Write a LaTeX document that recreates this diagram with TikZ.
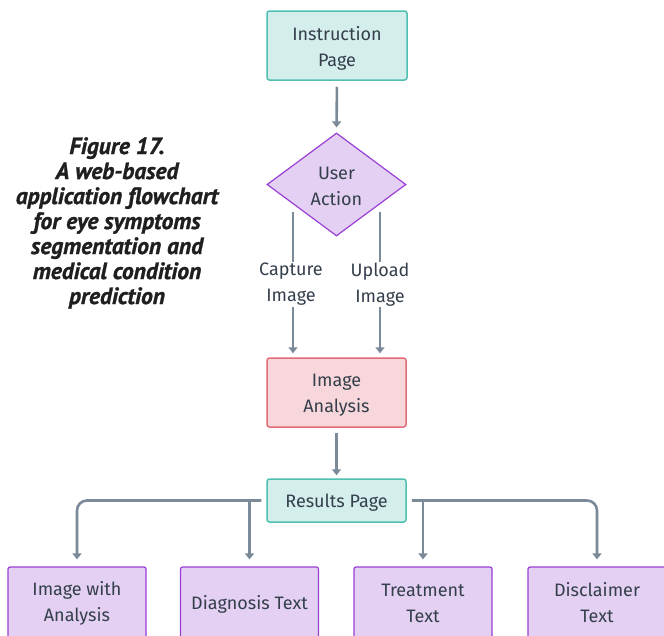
\documentclass[tikz,border=0pt]{standalone}
\usepackage{fontspec}
\setmainfont{Fira Sans}
\newfontfamily\captionfont{PT Sans}[BoldItalicFeatures={FakeBold=1.2}]
\usetikzlibrary{shapes.geometric,arrows.meta,calc}
\definecolor{txt}{HTML}{343F4B}
\definecolor{conncol}{HTML}{7A8A98}
\definecolor{tealfill}{HTML}{D4EEEC}
\definecolor{tealline}{HTML}{4EC0B2}
\definecolor{pinkfill}{HTML}{F7D7DB}
\definecolor{pinkline}{HTML}{E06D78}
\definecolor{lilacfill}{HTML}{E3D0F2}
\definecolor{lilacline}{HTML}{9A3FD6}
\tikzset{
  base/.style={text=txt, font=\fontsize{18}{26}\selectfont, align=center, inner sep=0pt},
  % a tall strut on the first line sets the text block a little lower
  lowered/.style={execute at begin node={\rule{0pt}{17.5pt}}},
  % two-line caption inside a box, set slightly below the box centre
  boxtext/.style 2 args={label={[base, yshift=#1]center:{#2}}},
  tealbox/.style={base, lowered, draw=tealline, fill=tealfill, line width=1.5pt, rounded corners=2.5pt},
  pinkbox/.style={base, lowered, draw=pinkline, fill=pinkfill, line width=1.5pt, rounded corners=2.5pt},
  lilacbox/.style={base, lowered, draw=lilacline, fill=lilacfill, line width=1.2pt, rounded corners=2pt,
    minimum width=138pt, minimum height=72pt},
  decision/.style={base, diamond, draw=lilacline, fill=lilacfill, line width=1.2pt,
    minimum width=139pt, minimum height=103pt, aspect=1.35},
  lbl/.style={base, fill=white, inner ysep=2pt},
  conn/.style={draw=conncol, line width=2.6pt},
  arr/.style={conn, -{Triangle[width=9pt,length=6pt]}},
}
\begin{document}
\begin{tikzpicture}[x=1pt,y=-1pt]
\useasboundingbox (0,0) rectangle (664,635);
\fill[white] (0,0) rectangle (664,635);

% caption block
\node[text=black!88, font=\captionfont\bfseries\itshape\fontsize{23.5}{25}\selectfont, align=center]
  (cap17) at (117,223) {Figure 17.\\A web-based\\application flowchart\\for eye symptoms\\segmentation and\\medical condition\\prediction};

% flow nodes
\node[tealbox, minimum width=140pt, minimum height=69pt, boxtext={-3pt}{Instruction\\Page}] (ip) at (337,45.5) {};
\node[decision, boxtext={-1.5pt}{User\\Action}] (ua) at (336.5,184.5) {};
\node[pinkbox, minimum width=139pt, minimum height=69pt, boxtext={-3pt}{Image\\Analysis}] (ia) at (336.5,392.5) {};
\node[tealbox, minimum width=139pt, minimum height=43pt] (rp) at (336.5,500.5) {Results Page};

\node[lbl] (capl) at (291,284.5) {Capture\\Image};
\node[lbl] (upl) at (380,284.5) {Upload\\Image};

\node[lilacbox] (b1) at (77,603) {Image with\\Analysis};
\node[lilacbox] (b2) at (249.5,603) {Diagnosis Text};
\node[lilacbox] (b3) at (423,603) {Treatment\\Text};
\node[lilacbox] (b4) at (597,603) {Disclaimer\\Text};

\coordinate (capTop) at (293,212);
\coordinate (upTop) at (380,212);

% connectors
\draw[arr, shorten <=6pt, shorten >=5pt] (ip.south) -- (ua.north);
\draw[conn, shorten >=-1pt] (capTop) -- (capl.north -| capTop);
\draw[conn, shorten >=-1pt] (upTop) -- (upl.north -| upTop);
\draw[arr, shorten <=-1pt, shorten >=4pt] (capl.south -| capTop) -- (ia.north -| capTop);
\draw[arr, shorten <=-1pt, shorten >=4pt] (upl.south -| upTop) -- (ia.north -| upTop);
\draw[arr, shorten <=5pt, shorten >=3pt] (ia.south) -- (rp.north);

\draw[arr, rounded corners=10pt, shorten <=5pt, shorten >=7pt] (rp.west) -| (b1.north);
\draw[arr, shorten >=7pt] (rp.west -| b2.north) -- (b2.north);
\draw[arr, rounded corners=10pt, shorten <=5pt, shorten >=7pt] (rp.east) -| (b4.north);
\draw[arr, shorten >=7pt] (rp.east -| b3.north) -- (b3.north);
\end{tikzpicture}
\end{document}
